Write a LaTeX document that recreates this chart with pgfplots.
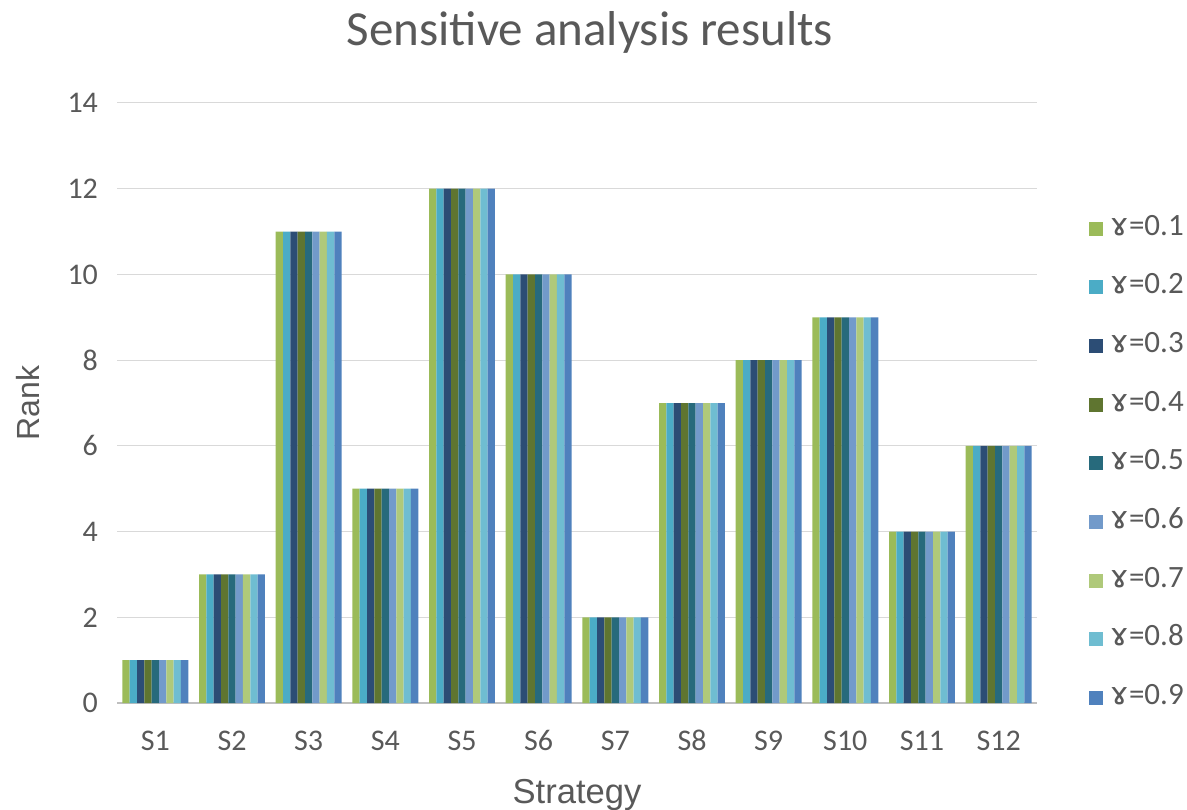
\documentclass[border=0pt]{standalone}
\usepackage{fontspec}
\setmainfont{Carlito}
\newfontfamily\arial{Liberation Sans}
\newfontfamily\dv{DejaVu Sans}
\usepackage{pgfplots}
\usepackage{pgfplotstable}
\pgfplotsset{compat=1.18}
\definecolor{c1}{HTML}{9BBB59}
\definecolor{c2}{HTML}{4BACC6}
\definecolor{c3}{HTML}{2C4D75}
\definecolor{c4}{HTML}{5F7530}
\definecolor{c5}{HTML}{276A7C}
\definecolor{c6}{HTML}{729ACA}
\definecolor{c7}{HTML}{AFC97A}
\definecolor{c8}{HTML}{6FBDD1}
\definecolor{c9}{HTML}{4F81BD}
\definecolor{gridc}{HTML}{D9D9D9}
\definecolor{axc}{HTML}{BFBFBF}
\definecolor{txt}{HTML}{595959}
\pgfplotstableread{
x y
1 1
2 3
3 11
4 5
5 12
6 10
7 2
8 7
9 8
10 9
11 4
12 6
}\ranks
\begin{document}
\begin{tikzpicture}
\useasboundingbox (-58.5pt,-53pt) rectangle (535pt,351.5pt);
\begin{axis}[
  at={(0,0)}, anchor=south west,
  scale only axis, width=460pt, height=300pt,
  xmin=0.5, xmax=12.5, ymin=0, ymax=14,
  ytick={0,2,...,14},
  xtick={1,...,12},
  xticklabels={S1,S2,S3,S4,S5,S6,S7,S8,S9,S10,S11,S12},
  tick style={draw=none},
  /pgf/number format/assume math mode=true,
  ticklabel style={font=\fontsize{15}{17}\selectfont, text=txt},
  yticklabel style={xshift=-6pt},
  xticklabel style={yshift=-12pt, text height=8pt, text depth=0pt},
  axis x line*=bottom, axis y line*=left,
  y axis line style={draw=none},
  x axis line style={draw=axc, line width=0.9pt, -},
  ymajorgrids, grid style={draw=gridc, line width=0.5pt},
  clip=false,
  legend cell align=left,
  legend style={draw=none, fill=none, at={(1.05,0.82)}, anchor=north west,
    font=\fontsize{15.5}{18}\selectfont, text=txt, row sep=15.8pt,
    nodes={inner sep=1pt, text height=9pt, text depth=2.5pt}},
  legend image code/.code={\path[#1, draw=none] (0pt,-3.5pt) rectangle (7pt,3.5pt);},
]
\addplot[ybar, bar width=0.0956, bar shift=-0.3824, fill=c1, draw=none] table[x=x,y=y] {\ranks};
\addlegendentry{\,{\dv ɤ}=0.1}
\addplot[ybar, bar width=0.0956, bar shift=-0.2868, fill=c2, draw=none] table[x=x,y=y] {\ranks};
\addlegendentry{\,{\dv ɤ}=0.2}
\addplot[ybar, bar width=0.0956, bar shift=-0.1912, fill=c3, draw=none] table[x=x,y=y] {\ranks};
\addlegendentry{\,{\dv ɤ}=0.3}
\addplot[ybar, bar width=0.0956, bar shift=-0.0956, fill=c4, draw=none] table[x=x,y=y] {\ranks};
\addlegendentry{\,{\dv ɤ}=0.4}
\addplot[ybar, bar width=0.0956, bar shift=0, fill=c5, draw=none] table[x=x,y=y] {\ranks};
\addlegendentry{\,{\dv ɤ}=0.5}
\addplot[ybar, bar width=0.0956, bar shift=0.0956, fill=c6, draw=none] table[x=x,y=y] {\ranks};
\addlegendentry{\,{\dv ɤ}=0.6}
\addplot[ybar, bar width=0.0956, bar shift=0.1912, fill=c7, draw=none] table[x=x,y=y] {\ranks};
\addlegendentry{\,{\dv ɤ}=0.7}
\addplot[ybar, bar width=0.0956, bar shift=0.2868, fill=c8, draw=none] table[x=x,y=y] {\ranks};
\addlegendentry{\,{\dv ɤ}=0.8}
\addplot[ybar, bar width=0.0956, bar shift=0.3824, fill=c9, draw=none] table[x=x,y=y] {\ranks};
\addlegendentry{\,{\dv ɤ}=0.9}
\end{axis}
\node[text=txt, font=\fontsize{24.5}{28}\selectfont] at (236.5pt,335.5pt) {Sensitive analysis results};
\node[text=txt, font=\arial\fontsize{16}{19}\selectfont, rotate=90] at (-44.5pt,150pt) {Rank};
\node[text=txt, font=\arial\fontsize{17.3}{20}\selectfont] at (230pt,-46pt) {Strategy};
\end{tikzpicture}
\end{document}
